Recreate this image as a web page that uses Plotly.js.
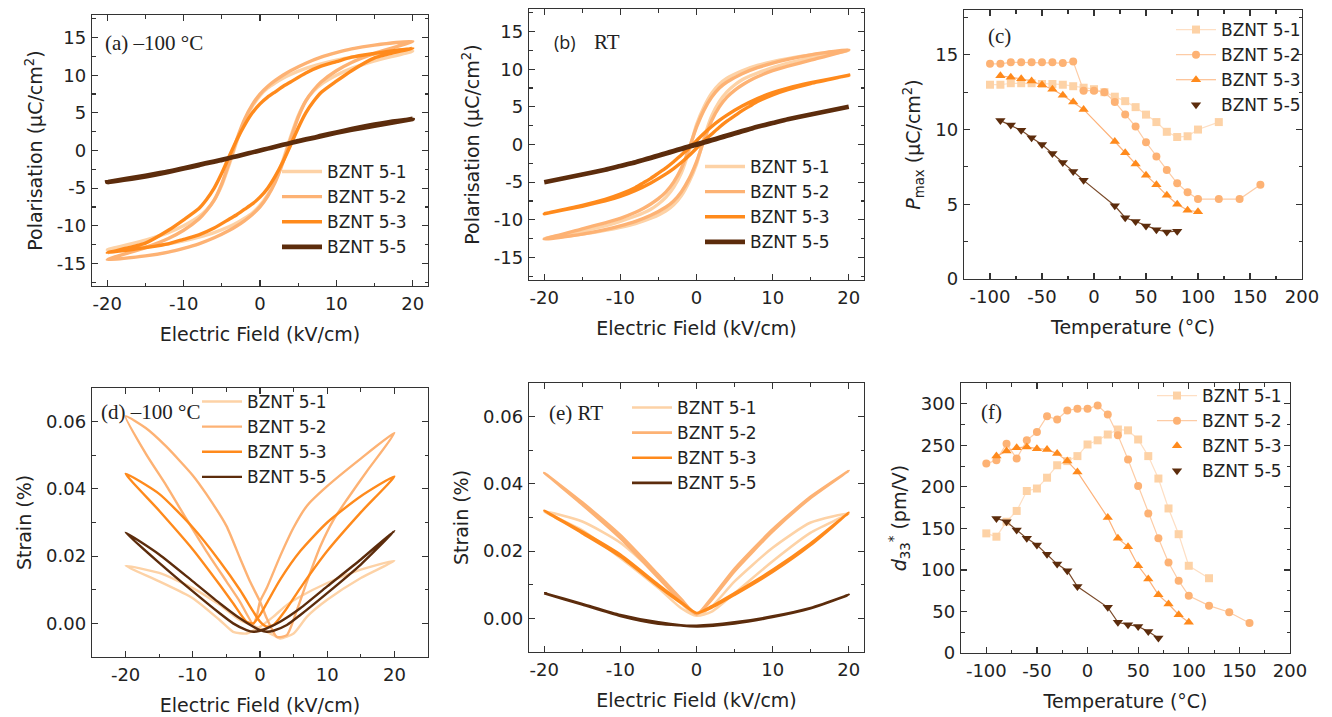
<!DOCTYPE html>
<html>
<head>
<meta charset="utf-8">
<script src="https://cdn.plot.ly/plotly-3.0.1.min.js"></script>
<style>html,body{margin:0;padding:0;background:#fff;}#chart{width:1332px;height:717px;}</style>
</head>
<body>
<div id="chart"></div>
<script>
// ---------- series names & colours ----------
const names = ['BZNT 5-1', 'BZNT 5-2', 'BZNT 5-3', 'BZNT 5-5'];
const colors = ['#FDD2A6', '#FDB274', '#FF8A1C', '#5C2C0C'];
const lineColors = ['#FEDFC4', '#FDCCA6', '#FDB27A', '#7A4A2A'];

// ---------- P-E loops: field grid (down branch then up branch) ----------
const eDown = [20, 15, 12, 10, 8, 6, 4, 3, 2, 1, 0, -1, -2, -3, -4, -5, -6, -7, -8, -10, -12, -15, -20];
const eUp = [-15, -12, -10, -8, -6, -4, -3, -2, -1, 0, 1, 2, 3, 4, 5, 6, 7, 8, 10, 12, 15, 20];

// (a) -100 °C
const a51Down = [13.2, 12.8, 12.4, 12.0, 11.5, 10.9, 10.1, 9.6, 9.0, 8.3, 7.3, 5.9, 4.0, 1.3, -1.8, -4.6, -6.6, -7.9, -8.8, -10.0, -10.9, -11.9, -13.2];
const a51Up = [-12.8, -12.4, -12.0, -11.5, -10.9, -10.1, -9.6, -9.0, -8.3, -7.3, -5.9, -4.0, -1.3, 1.8, 4.6, 6.6, 7.9, 8.8, 10.0, 10.9, 11.9, 13.2];
const a52Down = [14.5, 14.0, 13.5, 13.0, 12.4, 11.6, 10.6, 10.0, 9.3, 8.5, 7.5, 6.1, 4.2, 1.6, -1.5, -4.4, -6.6, -8.0, -9.1, -10.6, -11.7, -12.9, -14.5];
const a52Up = [-14.0, -13.5, -13.0, -12.4, -11.6, -10.6, -10.0, -9.3, -8.5, -7.5, -6.1, -4.2, -1.6, 1.5, 4.4, 6.6, 8.0, 9.1, 10.6, 11.7, 12.9, 14.5];
const a53Down = [13.6, 12.9, 12.4, 11.8, 11.2, 10.3, 9.1, 8.5, 7.8, 7.1, 6.2, 5.0, 3.4, 1.5, -0.7, -3.0, -5.0, -6.5, -7.7, -9.2, -10.6, -12.3, -13.6];
const a53Up = [-12.9, -12.4, -11.8, -11.2, -10.3, -9.1, -8.5, -7.8, -7.1, -6.2, -5.0, -3.4, -1.5, 0.7, 3.0, 5.0, 6.5, 7.7, 9.2, 10.6, 12.3, 13.6];
const a55Down = [4.2, 3.3, 2.75, 2.35, 1.9, 1.45, 1.0, 0.75, 0.5, 0.25, 0.0, -0.25, -0.5, -0.75, -1.0, -1.25, -1.5, -1.7, -1.95, -2.4, -2.85, -3.45, -4.2];
const a55Up = [-3.35, -2.8, -2.35, -1.9, -1.45, -1.0, -0.75, -0.5, -0.25, 0.0, 0.25, 0.5, 0.75, 1.0, 1.25, 1.5, 1.7, 1.95, 2.4, 2.85, 3.45, 4.2];

// (b) RT
const b51Down = [12.5, 11.9, 11.4, 11.0, 10.5, 9.8, 8.8, 8.0, 6.8, 5.0, 2.6, -0.9, -3.8, -5.7, -7.0, -7.9, -8.6, -9.1, -9.5, -10.2, -10.8, -11.5, -12.5];
const b51Up = [-11.9, -11.4, -11.0, -10.5, -9.8, -8.8, -8.0, -6.8, -5.0, -2.6, 0.9, 3.8, 5.7, 7.0, 7.9, 8.6, 9.1, 9.5, 10.2, 10.8, 11.5, 12.5];
const b52Down = [12.6, 11.9, 11.3, 10.8, 10.2, 9.4, 8.3, 7.5, 6.3, 4.6, 2.3, -0.6, -3.2, -5.0, -6.3, -7.2, -7.9, -8.5, -9.0, -9.8, -10.4, -11.2, -12.6];
const b52Up = [-11.9, -11.3, -10.8, -10.2, -9.4, -8.3, -7.5, -6.3, -4.6, -2.3, 0.6, 3.2, 5.0, 6.3, 7.2, 7.9, 8.5, 9.0, 9.8, 10.4, 11.2, 12.6];
const b53Down = [9.2, 8.2, 7.5, 6.9, 6.1, 5.1, 3.9, 3.2, 2.4, 1.5, 0.5, -0.5, -1.4, -2.3, -3.1, -3.8, -4.5, -5.1, -5.7, -6.6, -7.3, -8.1, -9.2];
const b53Up = [-8.2, -7.5, -6.9, -6.1, -5.1, -3.9, -3.2, -2.4, -1.5, -0.5, 0.5, 1.4, 2.3, 3.1, 3.8, 4.5, 5.1, 5.7, 6.6, 7.3, 8.1, 9.2];
const b55Down = [5.0, 4.0, 3.35, 2.85, 2.35, 1.8, 1.2, 0.9, 0.6, 0.3, 0.05, -0.25, -0.55, -0.85, -1.15, -1.45, -1.75, -2.05, -2.35, -2.85, -3.35, -4.0, -5.0];
const b55Up = [-4.0, -3.35, -2.85, -2.35, -1.8, -1.2, -0.9, -0.6, -0.3, -0.05, 0.25, 0.55, 0.85, 1.15, 1.45, 1.75, 2.05, 2.35, 2.85, 3.35, 4.0, 5.0];

// ---------- (c) Pmax vs temperature ----------
const c51T = [-100, -90, -80, -70, -60, -50, -40, -30, -20, -10, 0, 10, 20, 30, 40, 50, 60, 70, 80, 90, 100, 120];
const c51P = [13.0, 13.0, 13.1, 13.1, 13.1, 13.05, 13.05, 13.0, 12.9, 12.8, 12.7, 12.5, 12.2, 11.9, 11.5, 11.0, 10.5, 9.85, 9.5, 9.55, 10.0, 10.5];
const c52T = [-100, -90, -80, -70, -60, -50, -40, -30, -20, -10, 0, 10, 20, 30, 40, 50, 60, 70, 80, 90, 100, 120, 140, 160];
const c52P = [14.4, 14.4, 14.5, 14.5, 14.5, 14.5, 14.5, 14.45, 14.55, 12.6, 12.6, 12.5, 11.85, 11.0, 10.2, 9.15, 8.2, 7.3, 6.4, 5.8, 5.35, 5.35, 5.35, 6.3];
const c53T = [-90, -80, -70, -60, -50, -40, -30, -20, -10, 20, 30, 40, 50, 60, 70, 80, 90, 100];
const c53P = [13.6, 13.5, 13.4, 13.25, 13.0, 12.7, 12.3, 11.85, 11.35, 9.2, 8.45, 7.7, 6.95, 6.3, 5.6, 5.0, 4.6, 4.5];
const c55T = [-90, -80, -70, -60, -50, -40, -30, -20, -10, 20, 30, 40, 50, 60, 70, 80];
const c55P = [10.6, 10.3, 9.95, 9.45, 9.0, 8.4, 7.8, 7.2, 6.6, 4.9, 4.1, 3.85, 3.55, 3.3, 3.15, 3.2];

// ---------- (d) strain loops, -100 °C ----------
const d51E = [20, 15, 10, 6, 4, 2, 0, -2, -4, -6, -10, -15, -20, -15, -10, -6, -3, 0, 2, 3, 5, 7, 10, 15, 20];
const d51S = [0.0186, 0.0160, 0.0120, 0.0080, 0.0055, 0.0020, -0.0010, -0.0030, -0.0025, 0.0010, 0.0075, 0.0125, 0.0171, 0.0150, 0.0105, 0.0055, 0.0010, -0.0015, -0.0035, -0.0045, -0.0030, 0.0020, 0.0070, 0.0135, 0.0186];
const d52E = [20, 15, 10, 7, 5, 3, 1, 0, -0.5, -1, -3, -5, -8, -11, -14, -17, -20, -17, -14, -10, -8, -5, -3, -1.5, 0, 1, 2.5, 4, 5.5, 7, 9, 11, 13, 16, 20];
const d52S = [0.0566, 0.0490, 0.0408, 0.0350, 0.0285, 0.0200, 0.0105, 0.0065, 0.0020, -0.0002, 0.0065, 0.0125, 0.0215, 0.0312, 0.0412, 0.0505, 0.0616, 0.0581, 0.0527, 0.0440, 0.0385, 0.0290, 0.0195, 0.0125, 0.0065, 0.0015, -0.0040, -0.0035, 0.0040, 0.0125, 0.0230, 0.0310, 0.0370, 0.0455, 0.0566];
const d53E = [20, 15, 10, 6, 3, 1, 0, -1, -2, -4, -6, -10, -15, -20, -15, -10, -6, -3, -1, 0, 1, 2, 4, 6, 10, 15, 20];
const d53S = [0.0437, 0.0378, 0.0300, 0.0215, 0.0130, 0.0060, 0.0025, 0.0000, 0.0005, 0.0060, 0.0115, 0.0220, 0.0335, 0.0445, 0.0385, 0.0285, 0.0185, 0.0100, 0.0035, 0.0005, -0.0010, -0.0005, 0.0045, 0.0105, 0.0215, 0.0330, 0.0437];
const d55E = [20, 15, 10, 6, 3, 1, 0, -1, -2, -4, -6, -10, -15, -20, -15, -10, -6, -3, -1, 0, 1, 2, 4, 6, 10, 15, 20];
const d55S = [0.0275, 0.0190, 0.0110, 0.0045, 0.0005, -0.0015, -0.0022, -0.0025, -0.0020, 0.0000, 0.0030, 0.0095, 0.0180, 0.0270, 0.0205, 0.0125, 0.0060, 0.0015, -0.0010, -0.0020, -0.0025, -0.0022, -0.0005, 0.0025, 0.0090, 0.0175, 0.0275];

// ---------- (e) strain loops, RT ----------
const eE = [20, 15, 10, 5, 2, 0, -2, -5, -10, -15, -20, -15, -10, -5, -2, 0, 2, 5, 10, 15, 20];
const e51S = [0.0312, 0.0285, 0.0210, 0.0110, 0.0035, 0.0008, 0.0030, 0.0090, 0.0180, 0.0262, 0.0318, 0.0288, 0.0225, 0.0125, 0.0045, 0.0008, 0.0020, 0.0075, 0.0170, 0.0255, 0.0312];
const e52S = [0.0439, 0.0362, 0.0265, 0.0148, 0.0062, 0.0012, 0.0050, 0.0120, 0.0238, 0.0338, 0.0433, 0.0345, 0.0248, 0.0130, 0.0058, 0.0012, 0.0055, 0.0140, 0.0258, 0.0358, 0.0439];
const e53S = [0.0314, 0.0223, 0.0144, 0.0075, 0.0036, 0.0016, 0.0045, 0.0095, 0.0184, 0.0253, 0.0320, 0.0258, 0.0190, 0.0100, 0.0048, 0.0016, 0.0032, 0.0070, 0.0138, 0.0218, 0.0314];
const e55E = [20, 15, 10, 5, 0, -5, -10, -15, -20, -15, -10, -5, 0, 5, 10, 15, 20];
const e55S = [0.0070, 0.0031, 0.0006, -0.0012, -0.0022, -0.0016, 0.0007, 0.0041, 0.0075, 0.0043, 0.0010, -0.0012, -0.0024, -0.0015, 0.0004, 0.0030, 0.0070];

// ---------- (f) d33* vs temperature ----------
const f51T = [-100, -90, -80, -70, -60, -50, -40, -30, -20, -10, 0, 10, 20, 30, 40, 50, 60, 70, 80, 90, 100, 120];
const f51D = [144, 140, 158, 171, 195, 198, 211, 226, 231, 237, 251, 256, 263, 269, 268, 257, 237, 210, 174, 143, 105, 90];
const f52T = [-100, -90, -80, -70, -60, -50, -40, -30, -20, -10, 0, 10, 20, 30, 40, 50, 60, 70, 80, 90, 100, 120, 140, 160];
const f52D = [228, 232, 252, 234, 256, 266, 285, 281, 292, 294, 294, 298, 287, 262, 233, 201, 168, 138, 109, 87, 69, 57, 49, 36];
const f53T = [-90, -80, -70, -60, -50, -40, -30, -20, -10, 20, 30, 40, 50, 60, 70, 80, 90, 100];
const f53D = [237, 243, 247, 248, 246, 245, 240, 231, 218, 163, 138, 128, 105, 89, 70, 59, 46, 37];
const f55T = [-90, -80, -70, -60, -50, -40, -30, -20, -10, 20, 30, 40, 50, 60, 70];
const f55D = [162, 158, 148, 138, 130, 119, 107, 99, 80, 55, 37, 34, 32, 26, 18];

// ---------- tick labels ----------
const fieldTicks = [-20, -10, 0, 10, 20];
const fieldTickText = ['-20', '-10', '0', '10', '20'];
const polTicks = [-15, -10, -5, 0, 5, 10, 15];
const polTickText = ['-15', '-10', '-5', '0', '5', '10', '15'];
const tempTicks = [-100, -50, 0, 50, 100, 150, 200];
const tempTickText = ['-100', '-50', '0', '50', '100', '150', '200'];
const strainTicks = [0, 0.02, 0.04, 0.06];
const strainTickText = ['0.00', '0.02', '0.04', '0.06'];
const pmaxTicks = [0, 5, 10, 15];
const d33Ticks = [0, 50, 100, 150, 200, 250, 300];

// ---------- build traces ----------
const traces = [];
function loop(xs, ys, i, xa, ya, leg, w) {
  traces.push({x: xs, y: ys, xaxis: xa, yaxis: ya, type: 'scatter', mode: 'lines', name: names[i],
    legend: leg, line: {color: colors[i], width: w, shape: 'spline', smoothing: 0.6}});
}
const peWidth = [3.4, 3.4, 3.4, 4.6];
const aSets = [[a51Down, a51Up], [a52Down, a52Up], [a53Down, a53Up], [a55Down, a55Up]];
aSets.forEach((s, i) => loop(eDown.concat(eUp), s[0].concat(s[1]), i, 'x', 'y', 'legend', peWidth[i]));
const bSets = [[b51Down, b51Up], [b52Down, b52Up], [b53Down, b53Up], [b55Down, b55Up]];
bSets.forEach((s, i) => loop(eDown.concat(eUp), s[0].concat(s[1]), i, 'x2', 'y2', 'legend2', peWidth[i]));

const symbols = ['square', 'circle', 'triangle-up', 'triangle-down'];
const msize = [8, 8, 9, 9];
function tempSeries(xs, ys, i, xa, ya, leg, lineInLegend) {
  if (lineInLegend) {
    traces.push({x: xs, y: ys, xaxis: xa, yaxis: ya, type: 'scatter', mode: 'lines+markers', name: names[i], legend: leg,
      line: {color: lineColors[i], width: 1.2}, marker: {symbol: symbols[i], size: msize[i], color: colors[i]}});
  } else {
    traces.push({x: xs, y: ys, xaxis: xa, yaxis: ya, type: 'scatter', mode: 'lines', showlegend: false, legend: leg,
      line: {color: lineColors[i], width: 1.2}, hoverinfo: 'skip'});
    traces.push({x: xs, y: ys, xaxis: xa, yaxis: ya, type: 'scatter', mode: 'markers', name: names[i], legend: leg,
      marker: {symbol: symbols[i], size: msize[i], color: colors[i]}});
  }
}
tempSeries(c51T, c51P, 0, 'x3', 'y3', 'legend3', true);
tempSeries(c52T, c52P, 1, 'x3', 'y3', 'legend3', true);
tempSeries(c53T, c53P, 2, 'x3', 'y3', 'legend3', true);
tempSeries(c55T, c55P, 3, 'x3', 'y3', 'legend3', false);

loop(d51E, d51S, 0, 'x4', 'y4', 'legend4', 2.4);
loop(d52E, d52S, 1, 'x4', 'y4', 'legend4', 2.4);
loop(d53E, d53S, 2, 'x4', 'y4', 'legend4', 2.4);
loop(d55E, d55S, 3, 'x4', 'y4', 'legend4', 2.4);

loop(eE, e51S, 0, 'x5', 'y5', 'legend5', 2.6);
loop(eE, e52S, 1, 'x5', 'y5', 'legend5', 2.6);
loop(eE, e53S, 2, 'x5', 'y5', 'legend5', 2.6);
loop(e55E, e55S, 3, 'x5', 'y5', 'legend5', 2.6);

tempSeries(f51T, f51D, 0, 'x6', 'y6', 'legend6', true);
tempSeries(f52T, f52D, 1, 'x6', 'y6', 'legend6', true);
tempSeries(f53T, f53D, 2, 'x6', 'y6', 'legend6', false);
tempSeries(f55T, f55D, 3, 'x6', 'y6', 'legend6', false);

// ---------- layout ----------
const W = 1332, H = 717;
const px = v => v / W;
const py = v => 1 - v / H;
const SANS = 'DejaVu Sans, Verdana, sans-serif';
const SERIF = 'Liberation Serif, Times New Roman, serif';
const MINOR = {ticks: 'inside', ticklen: 3.5, tickwidth: 1.1, tickcolor: '#333', showgrid: false};

function axis(extra, mdt) {
  return Object.assign({
    showline: true, linecolor: '#333', linewidth: 1.3, mirror: 'allticks',
    ticks: 'inside', ticklen: 6, tickwidth: 1.2, tickcolor: '#333',
    showgrid: false, zeroline: false, tickmode: 'array', ticklabelstandoff: 1,
    tickfont: {family: SANS, size: 18, color: '#222'},
    minor: Object.assign({dtick: mdt, tick0: 0}, MINOR)
  }, extra);
}
function xt(t) { return {text: t, font: {family: SANS, size: 19, color: '#222'}, standoff: 14}; }
function yt(t) { return {text: t, font: {family: SANS, size: 19, color: '#222'}, standoff: 9}; }

function legendAt(x, y) {
  return {x: px(x), y: py(y), xref: 'paper', yref: 'paper', xanchor: 'left', yanchor: 'top',
    bgcolor: 'rgba(0,0,0,0)', borderwidth: 0, font: {family: SANS, size: 17, color: '#222'},
    itemwidth: 40, tracegroupgap: 0};
}

const layout = {
  width: W, height: H, margin: {l: 0, r: 0, t: 0, b: 0},
  paper_bgcolor: '#fff', plot_bgcolor: '#fff', showlegend: true,
  xaxis: axis({domain: [px(92), px(428)], anchor: 'y', range: [-22, 22], tickvals: fieldTicks, ticktext: fieldTickText, title: xt('Electric Field (kV/cm)')}, 5),
  yaxis: axis({domain: [py(286), py(15)], anchor: 'x', range: [-18, 18], tickvals: polTicks, ticktext: polTickText, title: yt('Polarisation (μC/cm<sup>2</sup>)')}, 2.5),
  xaxis2: axis({domain: [px(529), px(864)], anchor: 'y2', range: [-22, 22], tickvals: fieldTicks, ticktext: fieldTickText, title: xt('Electric Field (kV/cm)')}, 5),
  yaxis2: axis({domain: [py(280), py(9)], anchor: 'x2', range: [-18, 18], tickvals: polTicks, ticktext: polTickText, title: yt('Polarisation (μC/cm<sup>2</sup>)')}, 2.5),
  xaxis3: axis({domain: [px(964), px(1302)], anchor: 'y3', range: [-125, 200], tickvals: tempTicks, ticktext: tempTickText, title: xt('Temperature (°C)')}, 25),
  yaxis3: axis({domain: [py(279), py(10)], anchor: 'x3', range: [0, 18], tickvals: pmaxTicks, title: yt('<i>P</i><sub>max</sub> (μC/cm<sup>2</sup>)')}, 2.5),
  xaxis4: axis({domain: [px(92), px(428)], anchor: 'y4', range: [-25, 25], tickvals: fieldTicks, ticktext: fieldTickText, title: xt('Electric Field (kV/cm)')}, 5),
  yaxis4: axis({domain: [py(657), py(388)], anchor: 'x4', range: [-0.01, 0.07], tickvals: strainTicks, ticktext: strainTickText, title: yt('Strain (%)')}, 0.01),
  xaxis5: axis({domain: [px(529), px(864)], anchor: 'y5', range: [-22, 22], tickvals: fieldTicks, ticktext: fieldTickText, title: xt('Electric Field (kV/cm)')}, 5),
  yaxis5: axis({domain: [py(652), py(383)], anchor: 'x5', range: [-0.01, 0.07], tickvals: strainTicks, ticktext: strainTickText, title: yt('Strain (%)')}, 0.01),
  xaxis6: axis({domain: [px(961), px(1290)], anchor: 'y6', range: [-125, 200], tickvals: tempTicks, ticktext: tempTickText, title: xt('Temperature (°C)')}, 25),
  yaxis6: axis({domain: [py(653), py(383)], anchor: 'x6', range: [0, 325], tickvals: d33Ticks, title: yt('<i>d</i><sub>33</sub><sup>*</sup> (pm/V)')}, 25),
  legend: legendAt(277, 154),
  legend2: legendAt(700, 149),
  legend3: legendAt(1171, 12),
  legend4: legendAt(197, 384),
  legend5: legendAt(627, 390),
  legend6: legendAt(1152, 378),
  annotations: [
    {text: '(a) –100 °C', x: px(103), y: py(43), xref: 'paper', yref: 'paper', xanchor: 'left', yanchor: 'middle', showarrow: false, font: {family: SERIF, size: 21, color: '#222'}},
    {text: '(b)', x: px(552), y: py(42), xref: 'paper', yref: 'paper', xanchor: 'left', yanchor: 'middle', showarrow: false, font: {family: 'Open Sans, sans-serif', size: 18, color: '#222'}},
    {text: 'RT', x: px(592), y: py(42), xref: 'paper', yref: 'paper', xanchor: 'left', yanchor: 'middle', showarrow: false, font: {family: SERIF, size: 21, color: '#222'}},
    {text: '(c)', x: px(986), y: py(36), xref: 'paper', yref: 'paper', xanchor: 'left', yanchor: 'middle', showarrow: false, font: {family: SERIF, size: 21, color: '#222'}},
    {text: '(d) –100 °C', x: px(99), y: py(412), xref: 'paper', yref: 'paper', xanchor: 'left', yanchor: 'middle', showarrow: false, font: {family: SERIF, size: 21, color: '#222'}},
    {text: '(e) RT', x: px(547), y: py(413), xref: 'paper', yref: 'paper', xanchor: 'left', yanchor: 'middle', showarrow: false, font: {family: SERIF, size: 21, color: '#222'}},
    {text: '(f)', x: px(979), y: py(412), xref: 'paper', yref: 'paper', xanchor: 'left', yanchor: 'middle', showarrow: false, font: {family: SERIF, size: 21, color: '#222'}}
  ]
};

Plotly.newPlot('chart', traces, layout, {staticPlot: true, displayModeBar: false});
</script>
</body>
</html>
